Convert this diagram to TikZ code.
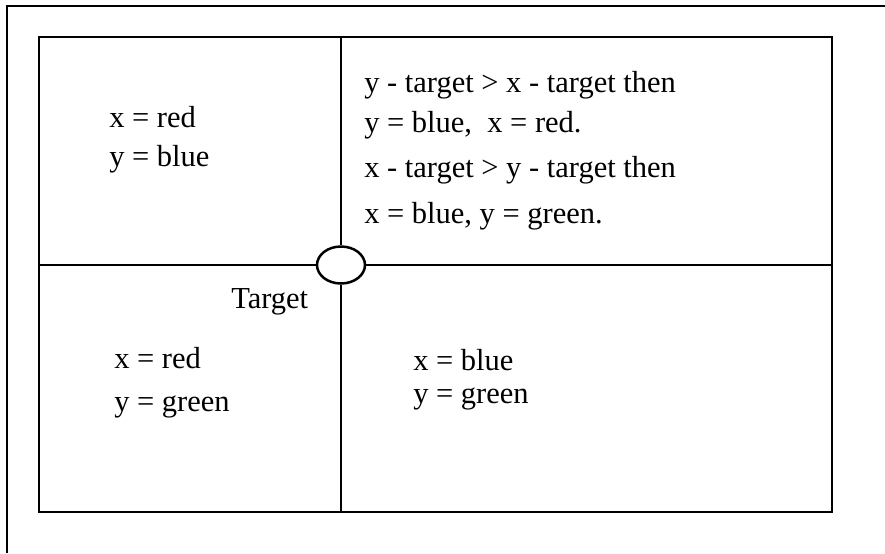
\documentclass[tikz,border=0pt]{standalone}
\usepackage{fontspec}
\setmainfont{Liberation Serif}
\usetikzlibrary{shapes.geometric}

\begin{document}
\begin{tikzpicture}[x=0.5pt, y=-0.5pt, line width=1.25pt]
    % Styles
    \tikzset{txt/.style={anchor=base west, inner sep=0pt, font=\fontsize{15.25}{18}\selectfont},
        hubnode/.style={ellipse, draw, fill=white, inner sep=0pt, minimum width=24pt, minimum height=18.5pt}}
    \useasboundingbox (0,0) rectangle (885,553);

    % Outer frame (open at right and bottom)
    \coordinate (frameb) at (7,553);
    \coordinate (framec) at (7,6);
    \coordinate (framer) at (885,6);
    \draw (frameb) -- (framec) -- (framer);

    % Quadrant box
    \coordinate (tl) at (39,37);
    \coordinate (br) at (832,512);
    \draw (tl) rectangle (br);
    \node [hubnode] (hub) at (341,265) {};
    \draw (tl |- hub) -- (hub.west);
    \draw (hub.east) -- (br |- hub);
    \draw (tl -| hub) -- (hub.north);
    \draw (hub.south) -- (br -| hub);

    % Top-left quadrant
    \node [txt] (tlx) at (108,127) {x = red};
    \node [txt] (tly) at (108,166) {y = blue};

    % Top-right quadrant
    \node [txt] (tra) at (363,92) {y - target > x - target then};
    \node [txt] (trb) at (363,132) {y = blue,\ \ x = red.};
    \node [txt] (trc) at (363,177) {x - target > y - target then};
    \node [txt] (trd) at (363,223) {x = blue, y = green.};

    % Bottom-left quadrant
    \node [txt] (tgt) at (230,308) {Target};
    \node [txt] (blx) at (113,368) {x = red};
    \node [txt] (bly) at (113,411) {y = green};

    % Bottom-right quadrant
    \node [txt] (brx) at (412,370) {x = blue};
    \node [txt] (bry) at (412,403) {y = green};
\end{tikzpicture}
\end{document}
